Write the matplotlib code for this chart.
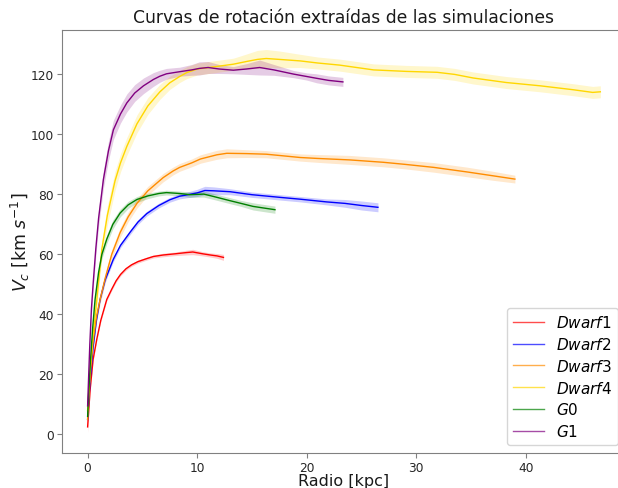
#! /usr/bin/env python3

import matplotlib
matplotlib.use('Agg')
import matplotlib.pyplot as plt

# radio [kpc], velocidad circular [km/s] y semiancho de la banda
r_dwarf1 = [0, 0.1, 0.23, 0.5, 0.84, 1.2, 1.75, 2.2, 2.6, 3.0, 3.5, 4.0, 4.6, 5.4, 6.0, 6.9, 8.0, 9.0, 9.6, 10.5,
            11.2, 11.8, 12.4]
v_dwarf1 = [2.5, 8, 15, 25, 31.8, 38, 45, 48.4, 51.2, 53.3, 55.2, 56.5, 57.6, 58.6, 59.3, 59.8, 60.2, 60.6, 60.8, 60.2,
            59.8, 59.5, 59.0]
e_dwarf1 = [2.0, 1.2, 0.8, 0.6, 0.5, 0.5, 0.5, 0.5, 0.5, 0.5, 0.5, 0.5, 0.5, 0.5, 0.5, 0.6, 0.6, 0.8, 0.9, 0.7,
            0.7, 0.8, 1.0]

r_dwarf2 = [0, 0.1, 0.25, 0.5, 0.8, 1.14, 1.6, 2.35, 3.0, 3.9, 4.6, 5.4, 6.5, 7.5, 8.4, 9.3, 10.0, 10.7, 11.5, 13.0,
            15.0, 17.6, 19.4, 21.8, 23.5, 25.0, 26.5]
v_dwarf2 = [5, 11, 19, 29, 38, 45, 51.5, 58.4, 63, 67.5, 70.8, 73.6, 76.3, 78.2, 79.4, 80, 80.5, 81.3, 81.2, 80.9,
            79.9, 79, 78.4, 77.5, 77, 76.3, 75.7]
e_dwarf2 = [1.0, 0.8, 0.8, 0.8, 0.8, 0.8, 0.8, 0.8, 0.8, 0.8, 0.8, 0.8, 0.8, 0.8, 0.9, 1.0, 1.2, 1.4, 1.3, 1.0,
            0.9, 0.9, 0.9, 1.0, 1.3, 1.5, 1.5]

r_dwarf3 = [0, 0.1, 0.25, 0.5, 0.8, 1.14, 1.6, 2.2, 2.97, 3.7, 4.5, 5.5, 6.9, 7.8, 8.4, 9.5, 10.3, 11.8, 12.7, 14.5,
            16.3, 18.0, 19.4, 20.9, 23.9, 27.0, 29.0, 31.6, 34.6, 37.0, 39.0]
v_dwarf3 = [5, 12, 21, 31, 39, 45, 52, 60, 67.3, 72.5, 77, 81.2, 85.6, 87.8, 89.0, 90.5, 91.8, 93.2, 93.7, 93.6,
            93.4, 92.8, 92.3, 92, 91.5, 90.7, 90, 89, 87.5, 86.2, 85.1]
e_dwarf3 = [1.0, 1.0, 1.2, 1.2, 1.3, 1.4, 1.5, 1.6, 1.6, 1.6, 1.6, 1.5, 1.4, 1.3, 1.3, 1.3, 1.4, 1.5, 1.5, 1.3,
            1.2, 1.2, 1.2, 1.3, 1.5, 1.5, 1.5, 1.6, 1.6, 1.5, 1.3]

r_dwarf4 = [0, 0.1, 0.25, 0.5, 0.84, 1.3, 1.8, 2.5, 3.0, 3.58, 4.5, 5.5, 6.6, 7.5, 8.4, 9.05, 10.0, 11.5, 13.3, 14.5,
            15.5, 16.3, 17.5, 19.4, 21.0, 23.0, 26.1, 29.1, 31.9, 33.5, 35.2, 38.2, 41.3, 44.3, 46.1, 46.8]
v_dwarf4 = [8, 14, 22, 33, 45, 61.8, 73, 84.5, 90.5, 96, 103.5, 109.5, 114.2, 117.2, 119.3, 120.6, 121.8, 122.5, 123.4,
            124.3, 125, 125.3, 125, 124.5, 123.8, 123.1, 121.5, 121, 120.7, 120, 118.8, 117.3, 116.2, 114.9, 114, 114.2]
e_dwarf4 = [1.0, 1.2, 1.5, 2.0, 2.5, 3.0, 3.2, 3.2, 3.0, 3.0, 3.0, 2.8, 2.5, 2.2, 2.0, 2.0, 2.0, 2.0, 2.0, 2.5,
            3.0, 3.0, 2.8, 2.2, 2.0, 2.0, 2.0, 2.0, 2.0, 2.0, 2.0, 2.0, 2.0, 2.0, 2.0, 2.0]

r_g0 = [0, 0.1, 0.25, 0.45, 0.68, 1.0, 1.3, 1.75, 2.3, 2.97, 3.7, 4.5, 5.5, 6.5, 7.2, 8.4, 9.35, 10.6, 11.5, 13.0,
        14.0, 15.1, 16.0, 17.1]
v_g0 = [6, 14, 24, 35, 45, 54, 60, 65.1, 70, 73.8, 76.5, 78.3, 79.5, 80.3, 80.6, 80.3, 79.9, 80.1, 79.3, 77.9,
        77, 76, 75.5, 74.9]
e_g0 = [1.0, 1.0, 1.0, 1.2, 1.4, 1.5, 1.5, 1.5, 1.5, 1.3, 1.2, 1.0, 0.9, 0.8, 0.8, 0.8, 0.9, 1.0, 1.0, 1.0,
        1.0, 1.2, 1.2, 1.2]

r_g1 = [0, 0.1, 0.2, 0.35, 0.5, 0.75, 1.0, 1.44, 1.9, 2.35, 3.0, 3.58, 4.3, 5.1, 6.0, 6.6, 7.2, 8.4, 9.5, 10.2,
        11.0, 12.0, 13.3, 14.5, 15.7, 17.0, 18.8, 20.0, 20.9, 22.0, 23.3]
v_g1 = [9.5, 20, 30, 42, 50, 62, 72, 85, 94.5, 101.5, 106.8, 110.5, 113.8, 116.2, 118.3, 119.4, 120.2, 120.9, 121.5,
        122, 122.3, 121.8, 121.4, 121.8, 122.3, 121.5, 120.1, 119.3, 118.7, 118, 117.5]
e_g1 = [1.0, 1.5, 2.0, 2.0, 2.2, 2.5, 2.8, 3.0, 3.2, 3.2, 3.0, 3.0, 2.8, 2.6, 2.3, 2.0, 1.8, 1.5, 1.8, 2.2,
        2.0, 1.5, 1.2, 1.8, 2.5, 1.8, 1.2, 1.2, 1.5, 1.5, 1.5]

labels = [r'$Dwarf1$', r'$Dwarf2$', r'$Dwarf3$', r'$Dwarf4$', r'$G0$', r'$G1$']
colors = ['red', 'blue', 'darkorange', 'gold', 'green', 'purple']


def main():
    series = [(r_dwarf1, v_dwarf1, e_dwarf1), (r_dwarf2, v_dwarf2, e_dwarf2),
              (r_dwarf3, v_dwarf3, e_dwarf3), (r_dwarf4, v_dwarf4, e_dwarf4),
              (r_g0, v_g0, e_g0), (r_g1, v_g1, e_g1)]

    fig = plt.figure(figsize=(6.18, 4.89), dpi=100)
    ax = fig.add_axes([0.1003, 0.0716, 0.9126, 0.865])

    for (r, v, e), lab, c in zip(series, labels, colors):
        lo = [a - b for a, b in zip(v, e)]
        hi = [a + b for a, b in zip(v, e)]
        ax.fill_between(r, lo, hi, color=c, alpha=0.2, linewidth=0)
        ax.plot(r, v, color=c, lw=1.0, label=lab)

    ax.set_xlim(-2.34, 49.14)
    ax.set_ylim(-6.2, 134.8)
    ax.set_xticks([0, 10, 20, 30, 40])
    ax.set_yticks([0, 20, 40, 60, 80, 100, 120])

    #styling
    for s in ax.spines.values():
        s.set_color('0.5')
    ax.tick_params(colors='0.5', labelcolor='#262626', labelsize=8.8, length=3.5, pad=2.5)

    ax.set_title('Curvas de rotación extraídas de las simulaciones', fontsize=12.3, color='#1a1a1a')
    ax.set_xlabel('Radio [kpc]', fontsize=11.5, color='#1a1a1a', labelpad=-1)
    ax.set_ylabel(r'$V_c$ [km $s^{-1}$]', fontsize=12.5, color='#1a1a1a', labelpad=-1)

    leg = ax.legend(loc='lower right', fontsize=11, labelspacing=0.38)
    for line in leg.get_lines():
        line.set_alpha(0.7)

    fig.savefig('out.png', dpi=100)


if __name__ == '__main__': main()
